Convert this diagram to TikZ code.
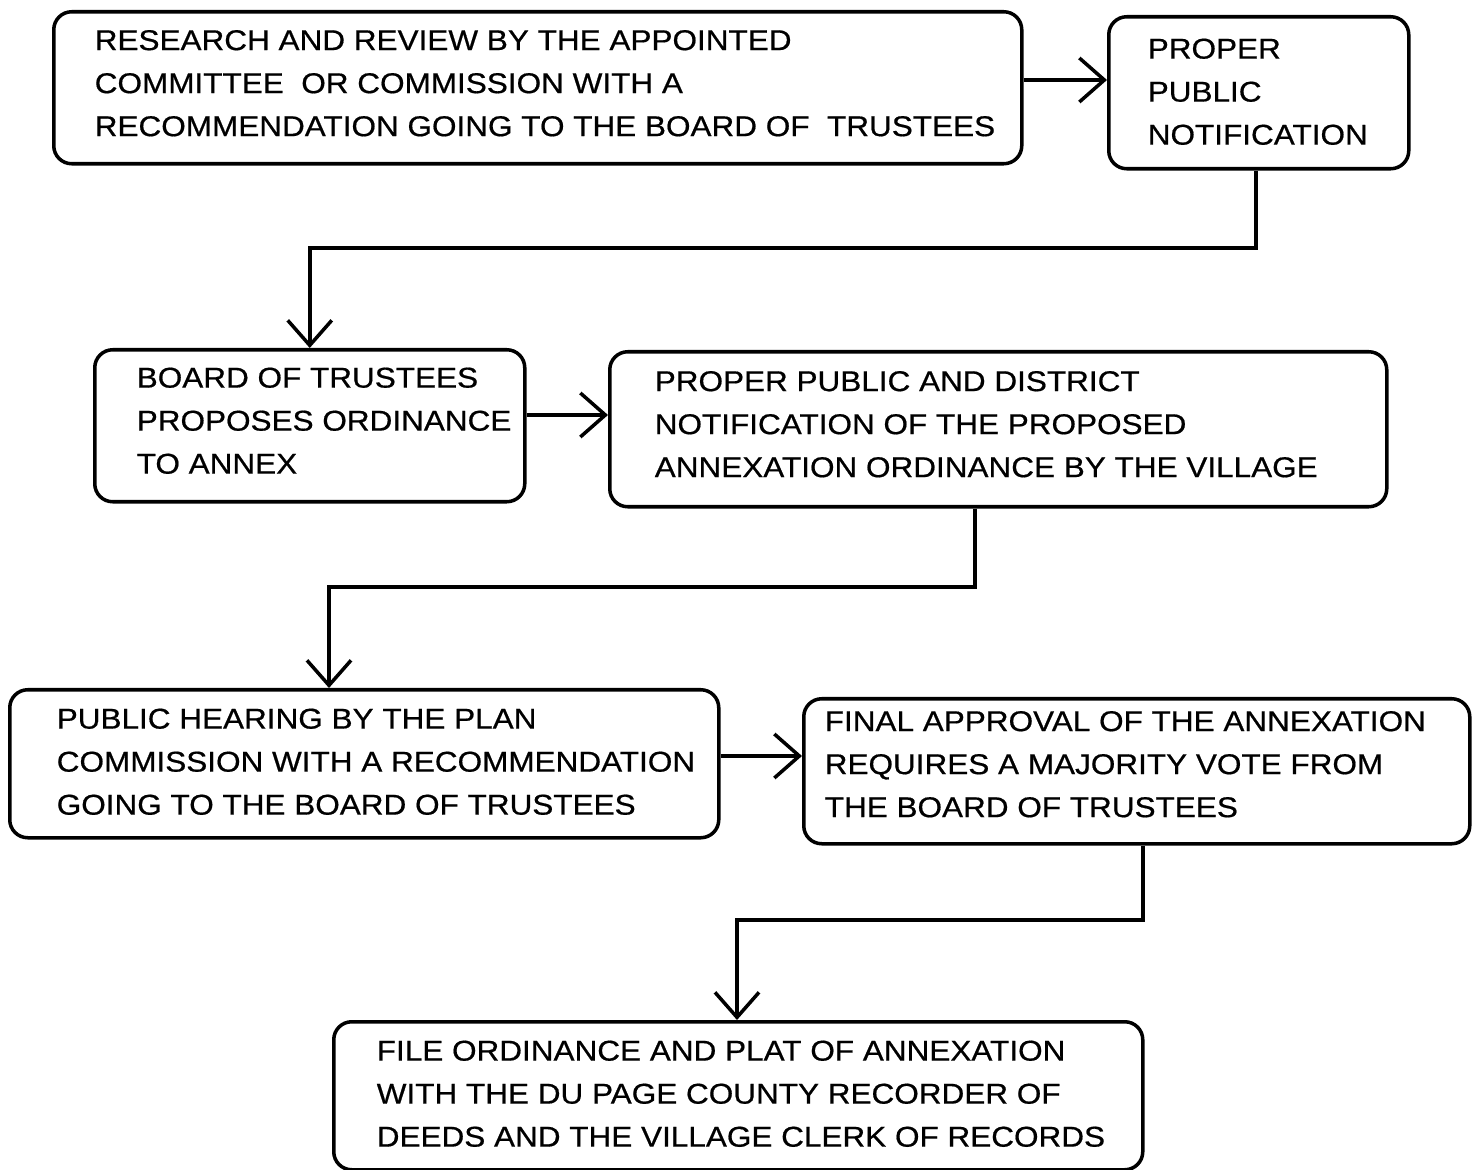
\documentclass[tikz,border=0pt]{standalone}
\usepackage{fontspec}
\setmainfont{Liberation Sans}
\newfontfamily\plotfont{Liberation Sans}[FakeStretch=1.10, FakeBold=0.6]
\usetikzlibrary{arrows.meta}
\begin{document}
\begin{tikzpicture}[
  line width=1pt,
  stepbox/.style={draw, rounded corners=0.18cm, anchor=north west, inner sep=0pt},
  steptext/.style={anchor=west, align=left, inner sep=0pt,
    font=\plotfont\fontsize{8.15}{12.24}\selectfont},
  arr/.style={-{Straight Barb[length=0.25cm,width=0.44cm,line width=1pt]}}
]
\useasboundingbox (0,0) rectangle (14.75,-11.70);

% boxes
\node[stepbox, minimum width=9.68cm, minimum height=1.52cm] (A) at (0.52,-0.10) {};
\node[stepbox, minimum width=3.00cm, minimum height=1.52cm] (B) at (11.07,-0.15) {};
\node[stepbox, minimum width=4.30cm, minimum height=1.52cm] (C) at (0.93,-3.48) {};
\node[stepbox, minimum width=7.77cm, minimum height=1.55cm] (D) at (6.08,-3.50) {};
\node[stepbox, minimum width=7.09cm, minimum height=1.48cm] (E) at (0.08,-6.88) {};
\node[stepbox, minimum width=6.66cm, minimum height=1.45cm] (F) at (8.02,-6.97) {};
\node[stepbox, minimum width=8.09cm, minimum height=1.48cm] (G) at (3.32,-10.20) {};

% texts
\node[steptext] (At) at ([xshift=0.41cm,yshift=0.045cm]A.west)
  {RESEARCH AND REVIEW BY THE APPOINTED\\COMMITTEE\ \ OR COMMISSION WITH A\\RECOMMENDATION GOING TO THE BOARD OF\ \ TRUSTEES};
\node[steptext] (Bt) at ([xshift=0.39cm,yshift=0.01cm]B.west)
  {PROPER\\PUBLIC\\NOTIFICATION};
\node[steptext] (Ct) at ([xshift=0.42cm,yshift=0.05cm]C.west)
  {BOARD OF TRUSTEES\\PROPOSES ORDINANCE\\TO ANNEX};
\node[steptext] (Dt) at ([xshift=0.45cm,yshift=0.05cm]D.west)
  {PROPER PUBLIC AND DISTRICT\\NOTIFICATION OF THE PROPOSED\\ANNEXATION ORDINANCE BY THE VILLAGE};
\node[steptext] (Et) at ([xshift=0.47cm,yshift=0.02cm]E.west)
  {PUBLIC HEARING BY THE PLAN\\COMMISSION WITH A RECOMMENDATION\\GOING TO THE BOARD OF TRUSTEES};
\node[steptext] (Ft) at ([xshift=0.21cm,yshift=0.07cm]F.west)
  {FINAL APPROVAL OF THE ANNEXATION\\REQUIRES A MAJORITY VOTE FROM\\THE BOARD OF TRUSTEES};
\node[steptext] (Gt) at ([xshift=0.43cm,yshift=0.02cm]G.west)
  {FILE ORDINANCE AND PLAT OF ANNEXATION\\WITH THE DU PAGE COUNTY RECORDER OF\\DEEDS AND THE VILLAGE CLERK OF RECORDS};

% bend points of the connectors
\coordinate (bc) at (12.56,-2.48);
\coordinate (de) at (9.75,-5.87);
\coordinate (ed) at (3.29,-5.87);
\coordinate (fg) at (11.43,-9.20);
\coordinate (gf) at (7.37,-9.20);

\draw[arr] (A.east |- 0,-0.80) -- (B.west |- 0,-0.80);
\draw[arr] (bc |- B.south) -- (bc) -| (C.north);
\draw[arr] (C.east |- 0,-4.15) -- (D.west |- 0,-4.15);
\draw[arr] (de |- D.south) -- (de) -- (ed) -- (ed |- E.north);
\draw[arr] (E.east |- 0,-7.56) -- (F.west |- 0,-7.56);
\draw[arr] (fg |- F.south) -- (fg) -- (gf) -- (gf |- G.north);
\end{tikzpicture}
\end{document}
